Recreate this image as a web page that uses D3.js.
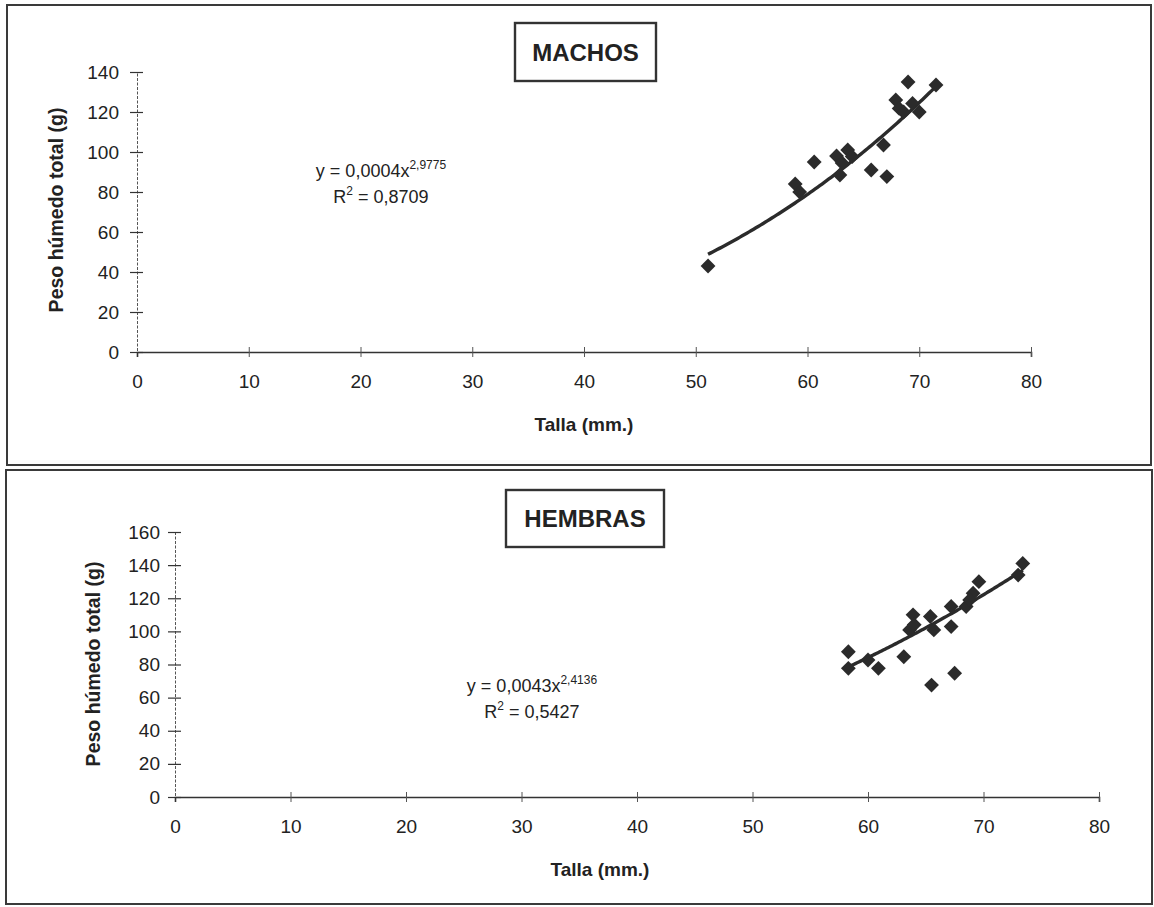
<!DOCTYPE html>
<html><head><meta charset="utf-8">
<script src="https://cdn.jsdelivr.net/npm/d3@7"></script>
<style>
body{margin:0;background:#fff;}
text{font-family:"Liberation Sans",Arial,sans-serif;fill:#222;}
</style></head>
<body>
<svg id="c" width="1154" height="907"></svg>
<script>
// ---- Data ----
const xTicks = [0,10,20,30,40,50,60,70,80];
const machosYTicks = [0,20,40,60,80,100,120,140];
const hembrasYTicks = [0,20,40,60,80,100,120,140,160];

const machosTalla = [51.1,58.9,59.3,60.6,62.6,63.6,63.1,62.9,64.0,65.7,67.1,66.8,69.0,67.9,68.2,69.4,70.0,71.5,68.6];
const machosPeso  = [43,84,80,95,98,101,94.5,88.5,97.7,91,87.7,103.5,135,126,121.8,124.3,120,133.5,120];

const hembrasTalla = [58.3,58.3,60.0,60.9,63.1,65.5,67.5,63.9,63.6,64.0,65.4,65.7,67.2,67.2,68.5,69.1,69.6,68.8,73.0,73.4];
const hembrasPeso  = [87.7,77.7,82.7,77.7,84.7,67.6,74.7,110,100.9,104,109,100.9,115,102.9,115,123,130,119,134,141];

// power-fit coefficients (y = a * x^b) as printed on the chart
const machosFit = [0.0004, 2.9775];
const hembrasFit = [0.0043, 2.4136];
const machosEq = ["y = 0,0004x", "2,9775", "0,8709"];
const hembrasEq = ["y = 0,0043x", "2,4136", "0,5427"];

const svg = d3.select("#c");
const ink = "#2b2b2b";
const FONT = "'Liberation Sans',Arial,sans-serif";

// panel frames
svg.append("rect").attr("x",7).attr("y",5).attr("width",1144).attr("height",460)
  .attr("fill","none").attr("stroke","#3a3a3a").attr("stroke-width",2);
svg.append("rect").attr("x",6).attr("y",470).attr("width",1146).attr("height",434)
  .attr("fill","none").attr("stroke","#3a3a3a").attr("stroke-width",2);

function panel(o){
  const x = d3.scaleLinear().domain([0,80]).range([o.x0,o.x1]);
  const y = d3.scaleLinear().domain([0,o.ymax]).range([o.y0,o.y1]);
  const g = svg.append("g");

  // y axis
  const ya = g.append("g").attr("transform",`translate(${x(0)},0)`)
    .call(d3.axisLeft(y).tickValues(o.yTicks).tickSize(7).tickPadding(o.yPad).tickFormat(d3.format("d")));
  ya.select(".domain").attr("stroke","#555").attr("stroke-width",1).attr("stroke-dasharray","3,1.5");
  ya.selectAll(".tick line").attr("x1",6).attr("stroke","#333").attr("stroke-width",1.2);
  ya.selectAll(".tick text").style("font-size","19px").attr("fill","#222").style("font-family",FONT);

  // x axis
  const xa = g.append("g").attr("transform",`translate(0,${y(0)})`)
    .call(d3.axisBottom(x).tickValues(xTicks).tickSize(5).tickPadding(o.xPad).tickFormat(d3.format("d")));
  xa.select(".domain").attr("stroke","#333").attr("stroke-width",1.6);
  xa.selectAll(".tick line").attr("y1",-5).attr("stroke","#555").attr("stroke-width",1);
  xa.selectAll(".tick text").style("font-size","19px").attr("fill","#222").style("font-family",FONT);
  xa.selectAll(".tick").filter(d=>d===0).select("line").attr("opacity",0);

  // axis titles
  g.append("text").attr("x",o.xTitle[0]).attr("y",o.xTitle[1]).attr("text-anchor","middle")
    .style("font-size","19px").style("font-weight","bold").text("Talla (mm.)");
  g.append("text").attr("transform",`translate(${o.yTitle[0]},${o.yTitle[1]}) rotate(-90)`)
    .attr("text-anchor","middle").style("font-size","19.5px").style("font-weight","bold")
    .text("Peso húmedo total (g)");

  // title box
  g.append("rect").attr("x",o.box[0]).attr("y",o.box[1]).attr("width",o.box[2]).attr("height",o.box[3])
    .attr("fill","#fff").attr("stroke","#333").attr("stroke-width",2.4);
  g.append("text").attr("x",o.box[0]+o.box[2]/2).attr("y",o.box[1]+o.box[3]/2+8.5)
    .attr("text-anchor","middle").style("font-size","24px").style("font-weight","bold")
    .text(o.title);

  // trend line
  const xmin = d3.min(o.tx), xmax = d3.max(o.tx);
  const pts = d3.range(0,101).map(i=>{const t = xmin+(xmax-xmin)*i/100; return [t, o.fit[0]*Math.pow(t,o.fit[1])];});
  g.append("path").datum(pts)
    .attr("d", d3.line().x(d=>x(d[0])).y(d=>y(d[1])))
    .attr("fill","none").attr("stroke",ink).attr("stroke-width",3.4);

  // points (diamonds)
  const sym = d3.symbol().type(d3.symbolDiamond2).size(140);
  g.selectAll("path.pt").data(o.tx.map((t,i)=>[t,o.ty[i]])).join("path").attr("class","pt")
    .attr("transform",d=>`translate(${x(d[0])},${y(d[1])})`)
    .attr("d",sym).attr("fill",ink);

  // equation
  const eq = g.append("text").attr("x",o.eq[0]).attr("y",o.eq[1]).attr("text-anchor","middle")
    .style("font-size","18px");
  eq.append("tspan").text(o.eqText[0]);
  eq.append("tspan").attr("dy",-8).style("font-size","12px").text(o.eqText[1]);
  const r2 = g.append("text").attr("x",o.eq[0]).attr("y",o.eq[1]+26).attr("text-anchor","middle")
    .style("font-size","18px");
  r2.append("tspan").text("R");
  r2.append("tspan").attr("dy",-8).style("font-size","12px").text("2");
  r2.append("tspan").attr("dy",8).text(" = "+o.eqText[2]);
}

panel({x0:137,x1:1031,y0:352,y1:72,ymax:140,yTicks:machosYTicks,tx:machosTalla,ty:machosPeso,
  fit:machosFit,eqText:machosEq,title:"MACHOS",box:[515,23,141,58],yPad:11,xPad:18,
  xTitle:[584,431],yTitle:[63,210],eq:[381,177]});
panel({x0:175,x1:1099,y0:797,y1:532,ymax:160,yTicks:hembrasYTicks,tx:hembrasTalla,ty:hembrasPeso,
  fit:hembrasFit,eqText:hembrasEq,title:"HEMBRAS",box:[506,490,158,57],yPad:8,xPad:18,
  xTitle:[600,876],yTitle:[100,664],eq:[532,692]});
</script>
</body></html>
